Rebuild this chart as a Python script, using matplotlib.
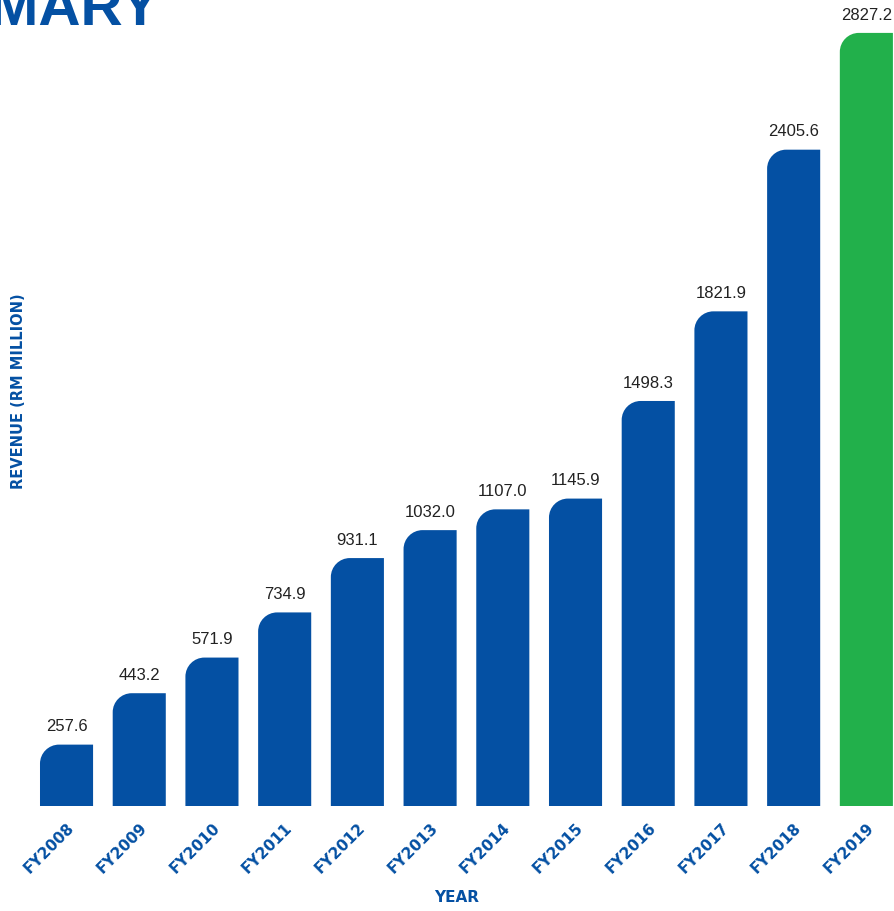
import numpy as np
import matplotlib
matplotlib.use('Agg')
import matplotlib.pyplot as plt
from matplotlib.path import Path
from matplotlib.patches import PathPatch

# Revenue by financial year (RM million)
years = ['FY2008', 'FY2009', 'FY2010', 'FY2011', 'FY2012', 'FY2013',
         'FY2014', 'FY2015', 'FY2016', 'FY2017', 'FY2018', 'FY2019']
revenue = [257.6, 443.2, 571.9, 734.9, 931.1, 1032.0,
           1107.0, 1145.9, 1498.3, 1821.9, 2405.6, 2827.2]

BLUE = '#0450A3'
GREEN = '#22B04B'
BAR_W = 0.73
K = 0.5523  # bezier factor for a quarter circle


def rounded_bar(ax, x, h, color, rx, ry):
    # bar with only the top-left corner rounded
    x0, x1 = x - BAR_W / 2, x + BAR_W / 2
    verts = [(x0, 0), (x0, h - ry),
             (x0, h - ry * (1 - K)), (x0 + rx * (1 - K), h), (x0 + rx, h),
             (x1, h), (x1, 0), (x0, 0)]
    codes = [Path.MOVETO, Path.LINETO,
             Path.CURVE4, Path.CURVE4, Path.CURVE4,
             Path.LINETO, Path.LINETO, Path.CLOSEPOLY]
    ax.add_patch(PathPatch(Path(verts, codes), facecolor=color, edgecolor='none'))


fig = plt.figure(figsize=(8.94, 9.11), dpi=100)
ax = fig.add_axes([0, 105 / 911, 1, 806 / 911])

ax.set_xlim(-0.915, 11.38)
ax.set_ylim(36, 2946)

# corner radius of ~19px expressed in data units
px_x = 894 / (11.38 + 0.915)
px_y = 806 / (2946 - 36)
rx, ry = 19 / px_x, 19 / px_y

x = np.arange(len(years))
for i, (xi, v) in enumerate(zip(x, revenue)):
    color = GREEN if i == len(years) - 1 else BLUE
    rounded_bar(ax, xi, v, color, rx, ry)
    ax.annotate(f'{v:.1f}', (xi, v), xytext=(0, 9.5), textcoords='offset points',
                ha='center', va='baseline', fontsize=12, color='#222222',
                family='Liberation Sans')

ax.set_xticks(x)
ax.set_xticklabels(years, rotation=45, ha='right', va='top', rotation_mode='anchor',
                   fontsize=11, fontweight='bold', color=BLUE, family='DejaVu Sans')
ax.tick_params(axis='x', length=0, pad=10)
ax.set_yticks([])
for s in ax.spines.values():
    s.set_visible(False)

fig.text(457 / 894, 1 - 898 / 911, 'YEAR', ha='center', va='center',
         fontsize=11, fontweight='bold', color=BLUE)
fig.text(19 / 894, 1 - 391 / 911, 'REVENUE (RM MILLION)', rotation=90,
         ha='center', va='center', fontsize=10.5, fontweight='bold', color=BLUE)

# page heading, partly off the canvas
fig.text(160 / 894, 1 - 25 / 911, 'SUMMARY', ha='right', va='baseline',
         fontsize=42, fontweight='bold', color=BLUE, family='Liberation Sans')

fig.savefig('out.png', dpi=100)
